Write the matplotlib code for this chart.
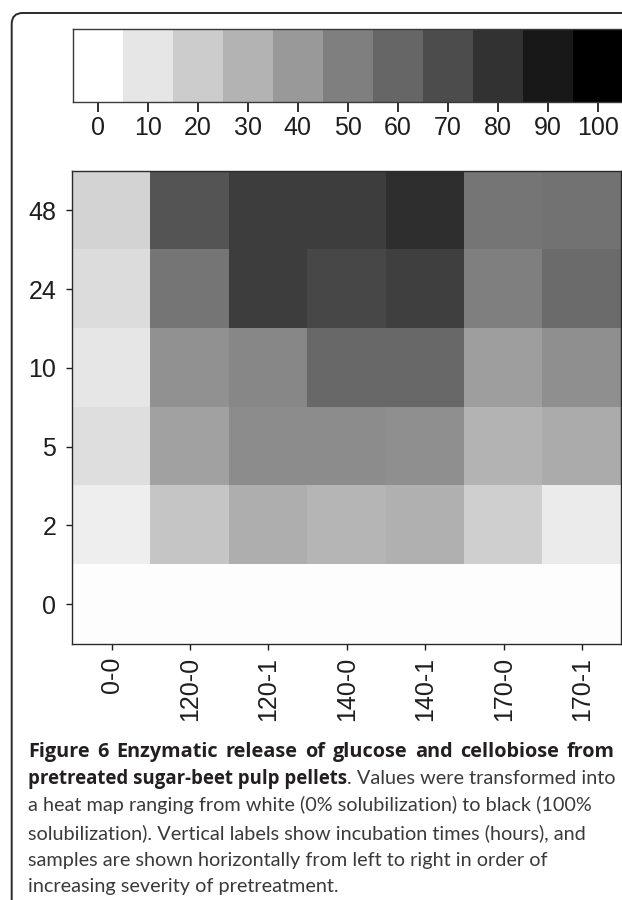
import numpy as np
import matplotlib
matplotlib.use("Agg")
from matplotlib import pyplot as plt
from matplotlib.patches import FancyBboxPatch
from matplotlib.transforms import IdentityTransform

# samples (pretreatment) and incubation times (hours)
samples = ["0-0", "120-0", "120-1", "140-0", "140-1", "170-0", "170-1"]
hours = ["0", "2", "5", "10", "24", "48"]

# % solubilization read from the grey levels, one list per incubation time
h0 = [1, 1, 1, 1, 1, 1, 1]
h2 = [7, 23, 32, 29, 31, 19, 8]
h5 = [13, 37, 45, 45, 44, 30, 33]
h10 = [10, 43, 47, 59, 59, 38, 44]
h24 = [14, 54, 76, 72, 75, 50, 58]
h48 = [17, 67, 76, 76, 82, 54, 55]

scale_vals = [0, 10, 20, 30, 40, 50, 60, 70, 80, 90, 100]

caption_bold1 = "Figure 6 Enzymatic release of glucose and cellobiose from"
caption_bold2 = "pretreated sugar-beet pulp pellets"
caption_rest2 = ". Values were transformed into"
caption_lines = ["a heat map ranging from white (0% solubilization) to black (100%",
                 "solubilization). Vertical labels show incubation times (hours), and",
                 "samples are shown horizontally from left to right in order of",
                 "increasing severity of pretreatment."]

W, H = 622, 900
plt.rcParams["font.family"] = ["Liberation Sans", "DejaVu Sans"]
fig = plt.figure(figsize=(W / 100, H / 100), dpi=100)


def rect(x0, y0, x1, y1):
    # pixel box (top-left origin) -> figure fraction
    return [x0 / W, 1 - y1 / H, (x1 - x0) / W, (y1 - y0) / H]


# rounded frame around the figure panel
frame = FancyBboxPatch((11.7, -60), 800, H - 13 + 60,
                       boxstyle="round,pad=0,rounding_size=11",
                       transform=IdentityTransform(), fill=False,
                       lw=1.4, ec="#2a2a2a")
fig.add_artist(frame)

tick_kw = dict(labelsize=18, labelcolor="#1e1e1e", color="#1e1e1e")

# colour scale strip
cax = fig.add_axes(rect(72.7, 29, 622.7, 101.7))
cax.imshow(np.array([scale_vals]), cmap="gray_r", vmin=0, vmax=100,
           aspect="auto", interpolation="nearest")
cax.set_xticks(range(len(scale_vals)))
cax.set_xticklabels([str(v) for v in scale_vals])
cax.set_yticks([])
cax.tick_params(axis="x", length=7, width=1.3, pad=3, **tick_kw)
for s in cax.spines.values():
    s.set_color("#3a3a3a")
    s.set_linewidth(1.0)

# heat map
ax = fig.add_axes(rect(72.3, 171, 621.3, 643.5))
grid = np.array([h0, h2, h5, h10, h24, h48])
ax.imshow(grid, cmap="gray_r", vmin=0, vmax=100, aspect="auto",
          origin="lower", interpolation="nearest")
ax.set_xticks(range(len(samples)))
ax.set_xticklabels(samples, rotation=90)
ax.set_yticks(range(len(hours)))
ax.set_yticklabels(hours)
ax.tick_params(axis="both", length=4.5, width=1.0, **tick_kw)
ax.tick_params(axis="x", pad=5)
ax.tick_params(axis="y", pad=7)
for s in ax.spines.values():
    s.set_color("#2a2a2a")
    s.set_linewidth(1.0)

# caption
bold_font = ["Open Sans", "DejaVu Sans"]
reg_font = ["Lato", "DejaVu Sans"]
bold_size = 13.4
reg_size = 14.3
x0 = 28 / W
base = [757.3, 784.3, 811.5, 838.7, 865.7, 892.3]
bold_kw = dict(family=bold_font, fontweight="bold", color="#231f20", va="baseline")
reg_kw = dict(fontsize=reg_size, family=reg_font, color="#3a3a3a", va="baseline")

# first line is justified in the original, so spread the words to its width
words = caption_bold1.split()
word_txt = [fig.text(x0, 1 - base[0] / H, w, fontsize=14.3, **bold_kw) for w in words]
b2 = fig.text(x0, 1 - base[1] / H, caption_bold2, fontsize=bold_size, **bold_kw)
fig.canvas.draw()
widths = [t.get_window_extent().width for t in word_txt]
gap = (615 - 28 - sum(widths)) / (len(words) - 1)
xp = 28
for t, wd in zip(word_txt, widths):
    t.set_x(xp / W)
    xp += wd + gap

x_end = b2.get_window_extent().x1
fig.text(x_end / W, 1 - base[1] / H, caption_rest2, **reg_kw)
for line, yb in zip(caption_lines, base[2:]):
    fig.text(x0, 1 - yb / H, line, **reg_kw)

fig.savefig("out.png", dpi=100)
